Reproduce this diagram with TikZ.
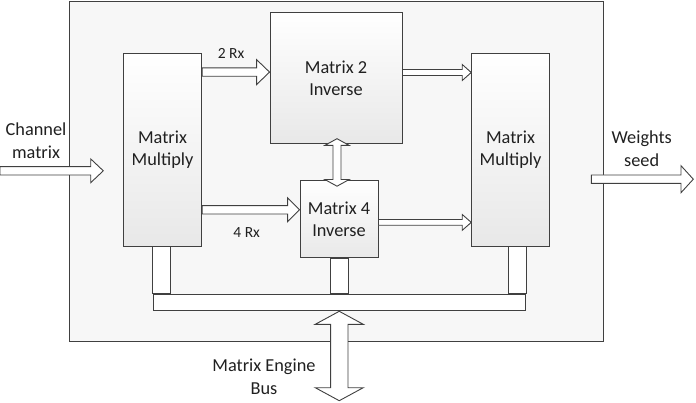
\documentclass[tikz,border=0pt]{standalone}
\usepackage{fontspec}
\setmainfont{Carlito}
\usepackage{tikz}
\usetikzlibrary{calc}
\usepackage{xcolor}
\definecolor{edgegray}{HTML}{404040}
\definecolor{panelgray}{HTML}{F7F7F7}
\definecolor{textgray}{HTML}{202020}
\newcommand{\bigtext}{\fontsize{18.3}{22.5}\selectfont}
\newcommand{\smalltext}{\fontsize{15.5}{19}\selectfont}
\newcommand{\prarrow}[5]{\draw[fatarrow] ($(#1)+(0,-#3)$) -- ($(#2)+(-#5,-#3)$) -- ($(#2)+(-#5,-#4)$) -- (#2) -- ($(#2)+(-#5,#4)$) -- ($(#2)+(-#5,#3)$) -- ($(#1)+(0,#3)$) -- cycle;}
\newcommand{\prdouble}[5]{\draw[fatarrow] (#1) -- ($(#1)+(#4,#5)$) -- ($(#1)+(#3,#5)$) -- ($(#2)+(#3,-#5)$) -- ($(#2)+(#4,-#5)$) -- (#2) -- ($(#2)+(-#4,-#5)$) -- ($(#2)+(-#3,-#5)$) -- ($(#1)+(-#3,#5)$) -- ($(#1)+(-#4,#5)$) -- cycle;}
\tikzset{
	block/.style={draw=edgegray, line width=0.9pt, top color=white, bottom color=black!9, align=center, font=\bigtext, text=textgray, inner sep=0pt},
	panel/.style={draw=edgegray, line width=0.9pt, fill=panelgray},
	fatarrow/.style={draw=edgegray, line width=0.9pt, fill=white, line join=miter},
	stubbar/.style={draw=edgegray, line width=0.9pt, fill=white},
	lbl/.style={align=center, text=textgray, inner sep=0pt}
}

\begin{document}
\begin{tikzpicture}[x=1pt,y=-1pt]

		\useasboundingbox (0,0) rectangle (696,403);

    \node[panel, minimum width=533.5pt, minimum height=340.5pt] (engine) at (336.25,171.5) {};

    \node[block, minimum width=78.4pt, minimum height=192.7pt] (mmL) at (162.5,149.7) {Matrix\\Multiply};
    \node[block, minimum width=132pt, minimum height=131.3pt] (inv2) at (336,78.3) {Matrix 2\\Inverse};
    \node[block, minimum width=78pt, minimum height=77.3pt] (inv4) at (339,219.3) {Matrix 4\\Inverse};
    \node[block, minimum width=77.6pt, minimum height=192.7pt] (mmR) at (510.5,149.7) {Matrix\\Multiply};
    \node[stubbar, minimum width=372.5pt, minimum height=15.7pt, inner sep=0pt] (bus) at (339.25,302.2) {};

    \draw[stubbar] (bus.north west |- mmL.south) rectangle ($(bus.north west)+(18,0)$);
    \draw[stubbar] ($(inv4.south)+(-9,0)$) rectangle ($(inv4.south |- bus.north)+(9,0)$);
    \draw[stubbar] ($(bus.north east |- mmR.south)+(-18,0)$) rectangle (bus.north east);

    \coordinate (chin) at (0,170.8);
    \coordinate (chtip) at (103.3,170.8);
    \coordinate (rx2a) at ($(mmL.north east)+(0,19.2)$);
    \coordinate (rx2b) at (inv2.west |- rx2a);
    \coordinate (rx4a) at ($(mmL.north east)+(0,156.9)$);
    \coordinate (rx4b) at (inv4.west |- rx4a);
    \coordinate (out2a) at ($(inv2.north east)+(0,60.3)$);
    \coordinate (out2b) at (mmR.west |- out2a);
    \coordinate (out4a) at ($(inv4.north east)+(0,42.2)$);
    \coordinate (out4b) at (mmR.west |- out4a);
    \coordinate (wout) at (591.3,179.2);
    \coordinate (wtip) at (693.3,179.2);
    \coordinate (linka) at ($(inv2.south)+(1,-5.7)$);
    \coordinate (linkb) at ($(inv4.north)+(-2,6)$);
    \coordinate (busa) at ($(bus.south)+(0,0.8)$);
    \coordinate (busb) at (339.25,400.7);

    \prarrow{chin}{chtip}{4.2}{11.9}{12.6}
    \prarrow{rx2a}{rx2b}{4.2}{12.5}{13}
    \prarrow{rx4a}{rx4b}{4.2}{12}{12}
    \prarrow{out2a}{out2b}{3}{8}{9}
    \prarrow{out4a}{out4b}{2.9}{7.9}{9}
    \prarrow{wout}{wtip}{4.2}{13.5}{12.3}
    \prdouble{linka}{linkb}{4}{12.2}{6.7}
    \prdouble{busa}{busb}{8.7}{24}{13}

    \node[lbl, font=\bigtext] (chlabel) at (36,140.5) {Channel\\matrix};
    \node[lbl, font=\smalltext] (rx2label) at (231,53) {2 Rx};
    \node[lbl, font=\smalltext] (rx4label) at (246.7,232.7) {4 Rx};
    \node[lbl, font=\bigtext] (wlabel) at (641.7,148.5) {Weights\\seed};
    \node[lbl, font=\bigtext] (buslabel) at (264,376.7) {Matrix Engine\\Bus};
    \end{tikzpicture}
\end{document}
